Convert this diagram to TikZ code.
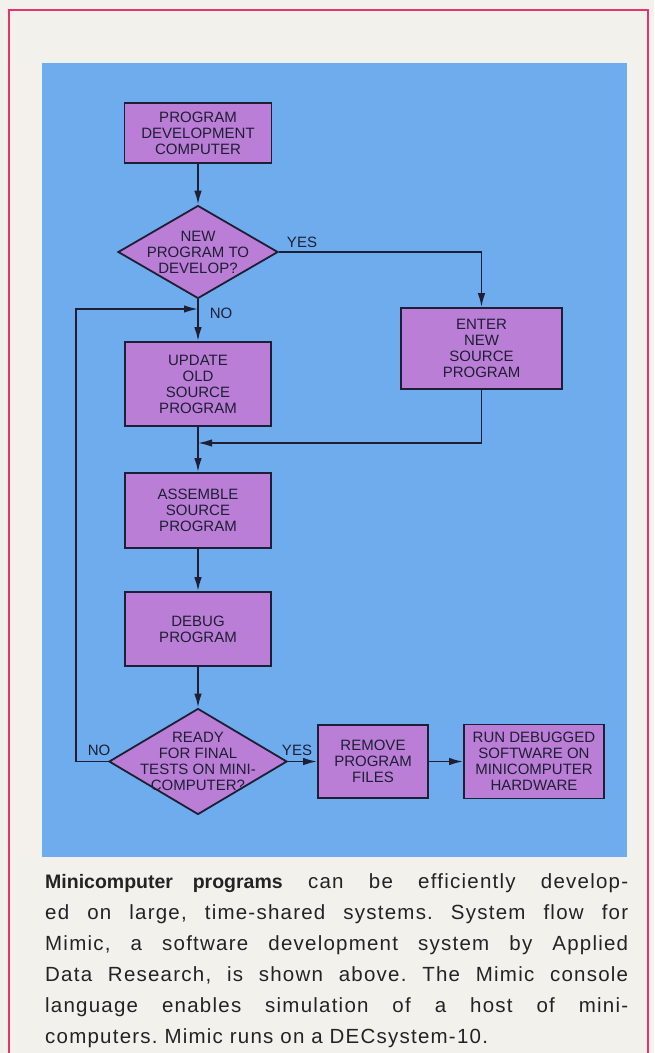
\documentclass[tikz,border=0pt]{standalone}
\usepackage{fontspec}
\usetikzlibrary{shapes.geometric,arrows.meta}
\newfontfamily\boxfont{Liberation Sans}
\newfontfamily\capfont[LetterSpace=6,BoldFeatures={LetterSpace=0}]{Liberation Sans}
\definecolor{paper}{RGB}{243,241,236}
\definecolor{rule}{RGB}{232,52,110}
\definecolor{sky}{RGB}{110,172,238}
\definecolor{violet}{RGB}{186,126,214}
\definecolor{ink}{RGB}{30,30,52}
\definecolor{captionink}{RGB}{35,35,35}
\newcommand{\leadin}[1]{{\fontsize{19.5}{31}\selectfont\bfseries #1}}
\tikzset{
  flowfont/.style={font=\boxfont\fontsize{15}{16}\selectfont},
  flowbox/.style={draw=ink, fill=violet, line width=1.8pt, inner sep=0pt,
    align=center, text=ink, flowfont},
  decision/.style={diamond, draw=ink, fill=violet, line width=1.8pt, inner sep=0pt},
  decisiontext/.style={inner sep=0pt, align=center, text=ink, flowfont},
  flowlabel/.style={inner sep=0pt, text=ink, flowfont},
  flowline/.style={draw=ink, line width=1.8pt, -{Latex[length=14pt,width=7.5pt]}},
}
\begin{document}
\begin{tikzpicture}[x=1pt,y=-1pt]
  % page and frame
  \useasboundingbox (0,0) rectangle (654,1053);
  \clip (0,0) rectangle (654,1053);
  \fill[paper] (0,0) rectangle (654,1053);
  \draw[rule, line width=2pt] (9,10) rectangle (648,1080);
  % coloured panel behind the flowchart
  \fill[sky] (42,63) rectangle (627,857);

  % process boxes
  \node[flowbox, minimum width=147pt, minimum height=60pt] (pdc) at (198,133)
    {PROGRAM\\DEVELOPMENT\\COMPUTER};
  \node[decision, minimum width=160pt, minimum height=93pt] (d1) at (198,252) {};
  \node[decisiontext] (d1text) at (198,252) {NEW\\PROGRAM TO\\DEVELOP?};
  \node[flowbox, minimum width=161pt, minimum height=81pt] (enter) at (481.5,348.5)
    {ENTER\\NEW\\SOURCE\\PROGRAM};
  \node[flowbox, minimum width=146pt, minimum height=84pt] (update) at (198,384)
    {UPDATE\\OLD\\SOURCE\\PROGRAM};
  \node[flowbox, minimum width=146pt, minimum height=75pt] (assemble) at (198,510.5)
    {ASSEMBLE\\SOURCE\\PROGRAM};
  \node[flowbox, minimum width=146pt, minimum height=74pt] (debug) at (198,629)
    {DEBUG\\PROGRAM};
  \node[decision, minimum width=178pt, minimum height=106pt] (d2) at (198,761.5) {};
  \node[decisiontext] (d2text) at (198,761.5) {READY\\FOR FINAL\\TESTS ON MINI-\\COMPUTER?};
  \node[flowbox, minimum width=110pt, minimum height=73pt] (remove) at (373,761.5)
    {REMOVE\\PROGRAM\\FILES};
  \node[flowbox, minimum width=140pt, minimum height=74pt] (run) at (534,761.5)
    {RUN DEBUGGED\\SOFTWARE ON\\MINICOMPUTER\\HARDWARE};

  % branch labels
  \node[flowlabel] (yes1) at (302,242) {YES};
  \node[flowlabel] (no1) at (221,313) {NO};
  \node[flowlabel] (no2) at (99,750) {NO};
  \node[flowlabel] (yes2) at (297,750) {YES};

  % junction points on the main column
  \coordinate (loopleft) at (76,309);
  \coordinate (nojoin) at (198,309);
  \coordinate (merge) at (198,443);

  % connectors
  \draw[flowline] (pdc) -- (d1);
  \draw[flowline] (d1.east) -| (enter.north);
  \draw[flowline] (d1.south) -- (update.north);
  \draw[flowline] (d2.west) -| (loopleft) -- (nojoin);
  \draw[flowline] (enter.south) |- (merge);
  \draw[flowline] (update) -- (assemble);
  \draw[flowline] (assemble) -- (debug);
  \draw[flowline] (debug) -- (d2);
  \draw[flowline] (d2.east) -- (remove.west);
  \draw[flowline] (remove) -- (run);

  % caption, regular text slightly letterspaced
  \node[anchor=north west, inner sep=0pt, text width=583pt, align=justify,
        text=captionink, font=\capfont\fontsize{20.5}{31}\selectfont]
        (caption) at (45,873)
    {\frenchspacing\emergencystretch=40pt\leadin{Minicomputer programs} can be efficiently develop-\linebreak
     ed on large, time-shared systems. System flow for\linebreak
     Mimic, a software development system by Applied\linebreak
     Data Research, is shown above. The Mimic console\linebreak
     language enables simulation of a host of mini-\linebreak
     computers. Mimic runs on a DECsystem-10.};
\end{tikzpicture}
\end{document}
